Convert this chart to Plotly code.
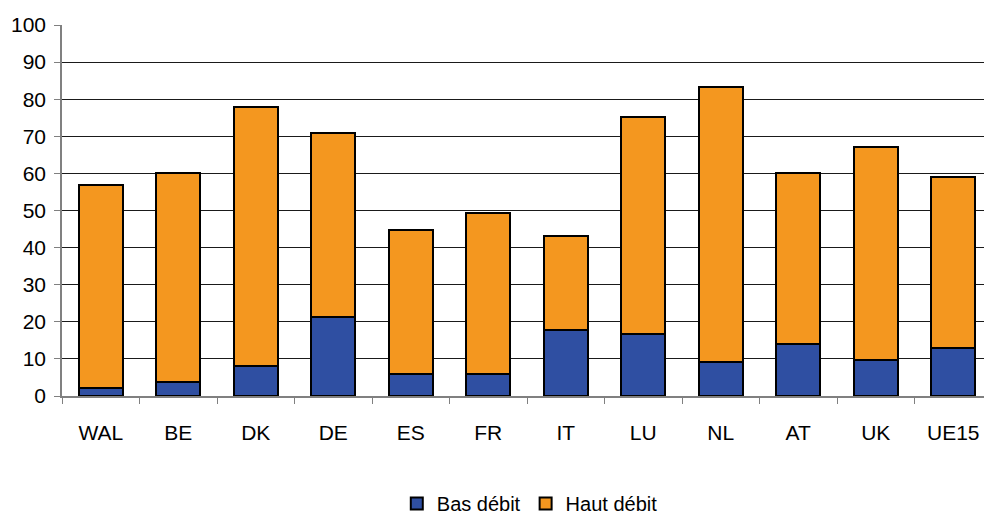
import plotly.graph_objects as go

categories = ["WAL", "BE", "DK", "DE", "ES", "FR", "IT", "LU", "NL", "AT", "UK", "UE15"]
bas_debit = [2.2, 3.8, 8.1, 21.2, 5.9, 5.9, 17.8, 16.7, 9.3, 14.0, 9.7, 13.0]
haut_debit = [54.8, 56.2, 69.9, 49.6, 38.9, 43.3, 25.4, 58.4, 73.9, 46.0, 57.4, 45.9]
y_ticks = [0, 10, 20, 30, 40, 50, 60, 70, 80, 90, 100]

font = dict(family="Liberation Sans, Arial, sans-serif", size=21, color="#000000")

fig = go.Figure()
fig.add_trace(go.Bar(
    x=categories, y=bas_debit, name="Bas débit",
    marker=dict(color="#2F4FA2", line=dict(color="#000000", width=2)),
))
fig.add_trace(go.Bar(
    x=categories, y=haut_debit, name="Haut débit",
    marker=dict(color="#F4971F", line=dict(color="#000000", width=2)),
))

fig.update_layout(
    barmode="stack",
    bargap=0.43,
    width=984, height=507,
    margin=dict(l=54, r=0, t=17, b=119, autoexpand=False),
    paper_bgcolor="white", plot_bgcolor="white",
    font=font,
    showlegend=True,
    legend=dict(orientation="h", x=0.503, xanchor="center", y=-0.29, yanchor="middle",
                font=dict(size=20), traceorder="normal", itemwidth=30),
    xaxis=dict(
        showline=True, linecolor="#808080", linewidth=1.5,
        ticks="outside", tickson="boundaries", ticklen=6, tickcolor="#808080",
        tickfont=font, showgrid=False, automargin=False, ticklabelstandoff=17,
    ),
    yaxis=dict(
        range=[0, 100], tickvals=y_ticks,
        showline=True, linecolor="#808080", linewidth=1.5,
        ticks="outside", ticklen=6, tickcolor="#808080",
        showgrid=True, gridcolor="#1a1a1a", gridwidth=1,
        zeroline=False, tickfont=font, automargin=False, ticklabelstandoff=4,
    ),
)

fig.write_html("out.html")
